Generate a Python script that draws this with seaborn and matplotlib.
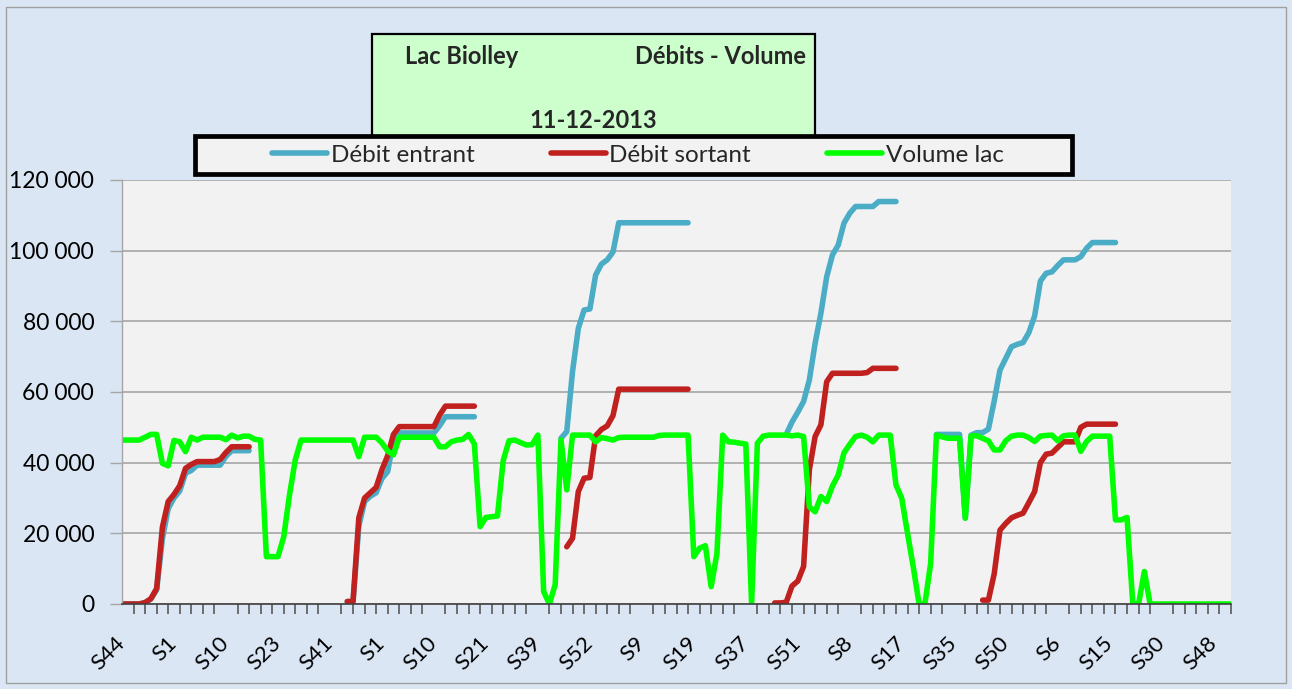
import numpy as np
import pandas as pd
import matplotlib
matplotlib.use("Agg")
import matplotlib.pyplot as plt
from matplotlib.patches import Rectangle
from matplotlib.lines import Line2D
from matplotlib.ticker import FuncFormatter
import seaborn as sns

# Week labels shown under the axis (one every LABEL_EVERY measurements)
week_labels = ["S44", "S1", "S10", "S23", "S41", "S1", "S10", "S21", "S39", "S52", "S9",
               "S19", "S37", "S51", "S8", "S17", "S35", "S50", "S6", "S15", "S30", "S48"]
LABEL_EVERY = 9
TICK_EVERY = 2

N = None  # gap in a cumulated series

# Cumulated inflow (m3)
debit_entrant = (
    [0, 0, 0, 0, 400, 1400, 4000, 18500, 27000, 30000, 32000, 37000, 37800,
     39300, 39300, 39300, 39300, 39300, 41800, 43400, 43400, 43400, 43400]
    + [N] * 16
    + [700, 700, 22000, 29000, 30500, 31500, 35500, 37500, 46500,
       48400, 48400, 48400, 48400, 48400, 48400, 48400, 50500,
       53000, 53000, 53000, 53000, 53000, 53000]
    + [N] * 14
    + [46900, 48800, 65800, 78000, 83200, 83500, 93100, 96200, 97400, 99600,
       107900, 107900, 107900, 107900, 107900, 107900, 107900, 107900, 107900,
       107900, 107900, 107900, 107900]
    + [N] * 16
    + [48000, 51500, 54300, 57300, 63400, 73800, 82300, 92600, 98800, 101600,
       107800, 110600, 112500, 112500, 112500, 112500, 113900, 113900, 113900, 113900]
    + [N] * 6
    + [48000, 48000, 48000, 48000, 48000, 24300, 47800, 48500, 48500, 49500,
       57400, 66200, 69500, 72800, 73500, 74000, 76800, 81500, 91400, 93600,
       94000, 95800, 97400, 97400, 97400, 98300, 100700,
       102300, 102300, 102300, 102300, 102300]
    + [N] * 20
)

# Cumulated outflow (m3)
debit_sortant = (
    [0, 0, 0, 0, 400, 1500, 4400, 21800, 29000, 31000, 33500, 38400, 39500,
     40300, 40300, 40300, 40300, 40900, 42900, 44500, 44500, 44500, 44500]
    + [N] * 16
    + [700, 700, 24400, 30000, 31500, 33000, 38000, 42000, 48000,
       50200, 50200, 50200, 50200, 50200, 50200, 50200, 53500,
       56000, 56000, 56000, 56000, 56000, 56000]
    + [N] * 15
    + [16200, 18600, 31800, 35600, 35800, 47600, 49400, 50400, 53300,
       60800, 60800, 60800, 60800, 60800, 60800, 60800, 60800, 60800,
       60800, 60800, 60800, 60800]
    + [N] * 14
    + [300, 300, 500, 5100, 6500, 10600, 38000, 47400, 50700, 62900,
       65300, 65300, 65300, 65300, 65300, 65300, 65500, 66700,
       66700, 66700, 66700, 66700]
    + [N] * 14
    + [1100, 1100, 8500, 20900, 22800, 24400, 25100, 25700, 28700, 31800,
       40000, 42400, 42700, 44300, 45900, 45900, 45900, 50000,
       50900, 50900, 50900, 50900, 50900, 50900]
    + [N] * 20
)

# Lake volume (m3)
volume_lac = (
    [46400, 46400, 46400, 46400, 47200, 48000, 48000, 39800, 39100, 46300,
     45900, 43100, 47200, 46400, 47200, 47200, 47200, 47200, 46500, 47800,
     47000, 47500, 47500, 46600, 46400, 13400, 13400, 13400, 19000, 30900,
     40800, 46400, 46400, 46400, 46400, 46400, 46400, 46400, 46400, 46400,
     46400, 41700, 47200, 47200, 47200, 45600, 43300, 42200, 47200, 47200,
     47200, 47200, 47200, 47200, 47200, 44500, 44500, 45900, 46400, 46600,
     48000, 45300, 21900, 24500, 24700, 24900, 40600, 46200, 46400, 45700,
     45000, 45100, 47800, 3500, 0, 5500, 46400, 32300, 47800, 47800,
     47800, 47800, 45900, 47100, 46800, 46400, 47100, 47200, 47200, 47200,
     47200, 47200, 47200, 47700, 47800, 47800, 47800, 47800, 47800, 13400,
     15800, 16500, 4900, 14300, 47800, 45900, 45800, 45500, 45300, 0,
     45500, 47500, 47800, 47800, 47800, 47800, 47600, 47800, 47400, 27500,
     26100, 30400, 29000, 33400, 36500, 42800, 45200, 47400, 47800, 47200,
     45900, 47800, 47800, 47800, 33700, 29900, 20000, 10400, 0, 0,
     11500, 47800, 47300, 46900, 46900, 46900, 24300, 47600, 47600, 46900,
     46200, 43600, 43600, 46200, 47500, 47800, 47800, 47100, 46000, 47500,
     47700, 47800, 46200, 47600, 47800, 47800, 43200, 46000, 47500, 47500,
     47500, 47500, 23800, 23800, 24500, 0, 0, 9200, 0]
    + [0] * 14
)

series_names = ["Débit entrant", "Débit sortant", "Volume lac"]
series_colors = ["#4bacc6", "#c0211f", "#00ff00"]
series_values = [debit_entrant, debit_sortant, volume_lac]

n_points = len(volume_lac)

# Long-form table; every uninterrupted run of a series is its own unit
frames = []
for name, values in zip(series_names, series_values):
    s = pd.Series(values, dtype=float)
    run_id = s.isna().cumsum().astype(str)
    df = pd.DataFrame({
        "mesure": np.arange(n_points),
        "valeur": s,
        "serie": name,
        "troncon": name + "-" + run_id,
    })
    frames.append(df.dropna())
data = pd.concat(frames, ignore_index=True)

sns.set_theme(style="white")
plt.rcParams["font.family"] = ["Lato", "DejaVu Sans"]

W, H = 1292, 689
fig = plt.figure(figsize=(W / 100, H / 100), dpi=100)
fig.patch.set_facecolor("#dae6f4")

ax = fig.add_axes([122 / W, (H - 604) / H, (1231 - 122) / W, (604 - 180) / H])
ax.set_facecolor("#f2f2f2")

LINE_W = 4.0
sns.lineplot(
    data=data, x="mesure", y="valeur", hue="serie", units="troncon",
    estimator=None, sort=False, hue_order=series_names,
    palette=dict(zip(series_names, series_colors)),
    linewidth=LINE_W, legend=False, ax=ax,
    solid_capstyle="round", solid_joinstyle="round",
)

ax.set_xlim(0, n_points - 1)
ax.set_ylim(0, 120000)
ax.set_xlabel("")
ax.set_ylabel("")

# Y axis
ax.set_yticks(np.arange(0, 120001, 20000))
ax.yaxis.set_major_formatter(FuncFormatter(lambda v, p: f"{int(v):,}".replace(",", " ")))
ax.yaxis.grid(True, color="#a6a6a6", linewidth=1.2)
ax.xaxis.grid(False)
ax.set_axisbelow(True)
ax.tick_params(axis="y", which="major", direction="out", length=9, width=1,
               color="#a6a6a6", pad=11, labelsize=16.5, labelcolor="black", left=True)

# X axis: small ticks every other measurement, labels every LABEL_EVERY
ax.set_xticks(np.arange(0, n_points, LABEL_EVERY)[:len(week_labels)], labels=week_labels)
ax.set_xticks(np.arange(0, n_points, TICK_EVERY), minor=True)
ax.tick_params(axis="x", which="major", length=0, pad=26, labelsize=16, labelcolor="black")
ax.tick_params(axis="x", which="minor", direction="out", length=7, width=1.2,
               color="#595959", bottom=True)
plt.setp(ax.get_xticklabels(), rotation=45, ha="right", va="center", rotation_mode="anchor")

for side in ("top", "right"):
    ax.spines[side].set_visible(False)
ax.spines["left"].set_color("#a6a6a6")
ax.spines["left"].set_linewidth(1)
ax.spines["bottom"].set_color("#404040")
ax.spines["bottom"].set_linewidth(1.2)

# Outer chart border
fig.add_artist(Rectangle((6 / W, (H - 683) / H), (1286 - 6) / W, (683 - 7) / H,
                         transform=fig.transFigure, fill=False,
                         edgecolor="#a0a0a0", linewidth=1, zorder=1))

# Title box
fig.add_artist(Rectangle((372 / W, (H - 137) / H), (815 - 372) / W, (137 - 34) / H,
                         transform=fig.transFigure, facecolor="#ccffcc",
                         edgecolor="black", linewidth=1.6, zorder=2))
fig.text(405 / W, (H - 56) / H, "Lac Biolley", ha="left", va="center",
         fontsize=17, fontweight="bold", zorder=3)
fig.text(806 / W, (H - 56) / H, "Débits - Volume", ha="right", va="center",
         fontsize=17, fontweight="bold", zorder=3)
fig.text(593 / W, (H - 121) / H, "11-12-2013", ha="center", va="center",
         fontsize=17, fontweight="bold", zorder=3)

# Legend box
fig.add_artist(Rectangle((195 / W, (H - 174) / H), (1072 - 195) / W, (174 - 136) / H,
                         transform=fig.transFigure, facecolor="#f2f2f2",
                         edgecolor="black", linewidth=3.4, zorder=4))
handles = [Line2D([], [], color=c, linewidth=LINE_W, solid_capstyle="round")
           for c in series_colors]
leg = fig.legend(handles, series_names, loc="center",
                 bbox_to_anchor=(638 / W, (H - 155) / H), ncol=3, frameon=False,
                 fontsize=17.5, handlelength=2.25, handletextpad=0.15,
                 columnspacing=3.15, borderpad=0)
leg.set_zorder(5)

fig.savefig("out.png", dpi=100)
